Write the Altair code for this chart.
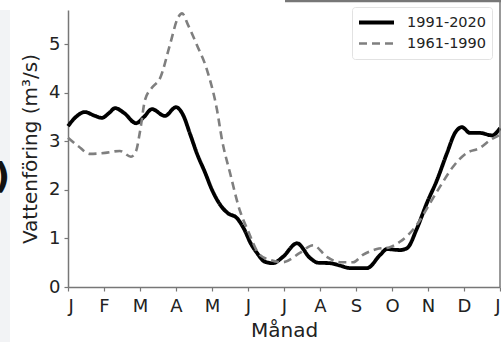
import json
import altair as alt
import pandas as pd

# ---- data ----
series_names = ["1991-2020", "1961-1990"]
month_labels = ["J", "F", "M", "A", "M", "J", "J", "A", "S", "O", "N", "D", "J"]
y_ticks = [0, 1, 2, 3, 4, 5]

months_new = [0.00, 0.22, 0.47, 0.72, 0.94, 1.14, 1.31, 1.56, 1.89, 2.11, 2.33, 2.69,
              3.00, 3.19, 3.39, 3.58, 3.81, 4.00, 4.22, 4.44, 4.69, 4.92, 5.06, 5.25,
              5.47, 5.69, 5.97, 6.36, 6.72, 6.94, 7.28, 7.56, 7.83, 8.31, 8.67, 8.86,
              9.22, 9.42, 9.69, 9.97, 10.25, 10.53, 10.75, 10.94, 11.17, 11.44, 11.78, 12.00]
flow_new = [3.31, 3.50, 3.60, 3.53, 3.48, 3.58, 3.68, 3.58, 3.37, 3.50, 3.66, 3.52,
            3.70, 3.55, 3.15, 2.75, 2.35, 2.00, 1.70, 1.52, 1.42, 1.15, 0.92, 0.70,
            0.52, 0.49, 0.62, 0.90, 0.60, 0.50, 0.49, 0.44, 0.39, 0.39, 0.66, 0.78,
            0.76, 0.80, 1.20, 1.73, 2.20, 2.76, 3.17, 3.29, 3.17, 3.17, 3.12, 3.27]

months_old = [0.00, 0.28, 0.61, 1.03, 1.44, 1.75, 1.89, 2.00, 2.14, 2.33, 2.56, 2.83,
              3.06, 3.17, 3.33, 3.58, 3.86, 4.14, 4.28, 4.50, 4.78, 4.97, 5.33, 5.61,
              5.97, 6.44, 6.81, 7.19, 7.56, 7.92, 8.19, 8.58, 8.94, 9.22, 9.69, 10.06,
              10.33, 10.69, 11.08, 11.44, 11.72, 12.00]
flow_old = [3.07, 2.90, 2.74, 2.76, 2.80, 2.68, 2.80, 3.20, 3.85, 4.10, 4.30, 4.98,
            5.55, 5.63, 5.40, 4.98, 4.47, 3.64, 3.02, 2.35, 1.56, 1.21, 0.66, 0.56,
            0.51, 0.70, 0.86, 0.62, 0.51, 0.51, 0.66, 0.78, 0.82, 0.93, 1.28, 1.73,
            2.06, 2.47, 2.76, 2.86, 3.02, 3.13]

df = pd.concat([
    pd.DataFrame({"month": months_new, "flow": flow_new, "series": series_names[0]}),
    pd.DataFrame({"month": months_old, "flow": flow_old, "series": series_names[1]}),
])

W, H = 432, 277
FONT = "DejaVu Sans"
label_expr = f"{json.dumps(month_labels)}[datum.value]"

lines = alt.Chart(df).mark_line(interpolate="monotone").encode(
    x=alt.X("month:Q",
            scale=alt.Scale(domain=[0, 12], nice=False, zero=False),
            axis=alt.Axis(values=list(range(13)), labelExpr=label_expr, title="Månad",
                          labelPadding=6, titlePadding=5)),
    y=alt.Y("flow:Q",
            scale=alt.Scale(domain=[0, 5.7], nice=False),
            axis=alt.Axis(values=y_ticks, title="Vattenföring (m³/s)", titlePadding=8)),
    color=alt.Color("series:N", title=None,
                    scale=alt.Scale(domain=series_names, range=["#000000", "#7f7f7f"])),
    strokeDash=alt.StrokeDash("series:N", title=None,
                              scale=alt.Scale(domain=series_names, range=[[1, 0], [8, 5]])),
    strokeWidth=alt.StrokeWidth("series:N", title=None,
                                scale=alt.Scale(domain=series_names, range=[3.8, 2.6])),
)

one = pd.DataFrame({"a": [0]})

right_spine = alt.Chart(one).mark_rule(color="#777777", strokeWidth=1.5).encode(
    x=alt.value(W), y=alt.value(-10), y2=alt.value(H))
top_bar = alt.Chart(one).mark_rule(color="#777777", strokeWidth=2.5).encode(
    x=alt.value(217), x2=alt.value(W + 2), y=alt.value(-9))
left_strip = alt.Chart(one).mark_rect(color="#f2f3f5").encode(
    x=alt.value(-68), x2=alt.value(-58), y=alt.value(0), y2=alt.value(H + 60))
paren = alt.Chart(one).mark_text(text=")", font=FONT, fontSize=36, fontWeight="bold",
                                 align="center", baseline="middle", color="#111111").encode(
    x=alt.value(-66), y=alt.value(167))

chart = alt.layer(left_strip, paren, lines, right_spine, top_bar).properties(
    width=W, height=H,
    autosize=alt.AutoSizeParams(type="none"),
    padding={"left": 68, "top": 10, "right": 1, "bottom": 55},
    background="white",
).configure_view(stroke=None).configure_axis(
    grid=False,
    labelFont=FONT, labelFontSize=18, labelColor="#222222", labelPadding=4,
    titleFont=FONT, titleFontSize=20, titleColor="#222222", titleFontWeight="normal",
    domainColor="#777777", domainWidth=1.5, tickColor="#777777", tickWidth=1.2, tickSize=4,
).configure_legend(
    orient="none", legendX=284, legendY=-3,
    labelFont=FONT, labelFontSize=14.5, labelColor="#222222",
    symbolType="stroke", symbolSize=1225, labelOffset=11,
    clipHeight=21, rowPadding=0, padding=5,
    strokeColor="#e2e2e2", cornerRadius=3, fillColor="white",
)

chart.save("out.html", embed_options={"renderer": "svg", "actions": False})
